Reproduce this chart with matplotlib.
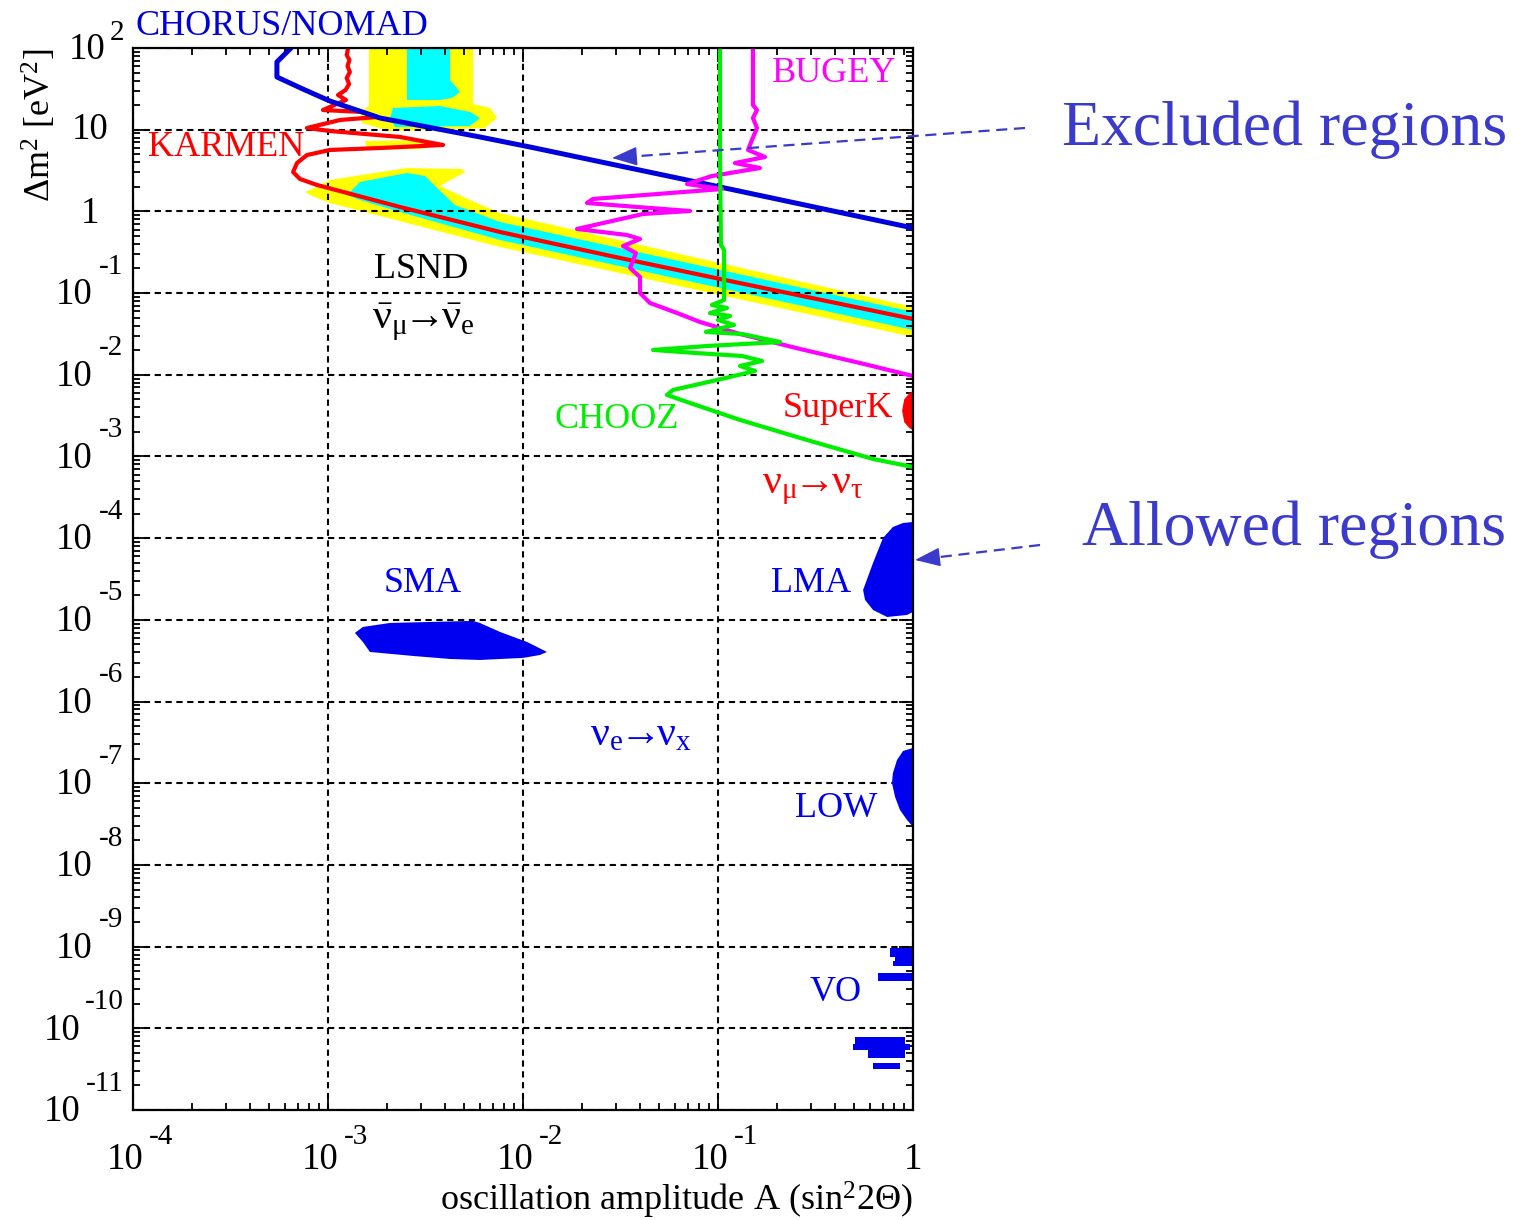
import numpy as np
import matplotlib
matplotlib.use("Agg")
import matplotlib.pyplot as plt
from matplotlib.ticker import LogLocator, NullFormatter
from matplotlib.lines import Line2D
from matplotlib.patches import FancyArrowPatch
from matplotlib.transforms import blended_transform_factory

plt.rcParams["font.family"] = ["Liberation Serif", "DejaVu Serif"]
plt.rcParams["mathtext.fontset"] = "custom"
plt.rcParams["mathtext.rm"] = "Liberation Serif"
plt.rcParams["mathtext.it"] = "Liberation Serif:italic"
plt.rcParams["mathtext.bf"] = "Liberation Serif:bold"
plt.rcParams["mathtext.fallback"] = "stix"

# All curves are given as log10(sin^2 2theta) and log10(dm^2 / eV^2)

# CHORUS / NOMAD exclusion limit
chorus_a = [-3.190, -3.262, -3.262, -3.118, -2.990, -2.733, -2.221, -1.964, -0.990, 0.0]
chorus_m = [2.000, 1.829, 1.645, 1.486, 1.351, 1.143, 0.911, 0.788, 0.299, -0.203]

# KARMEN exclusion limit
karmen_a = [-2.897, -2.904, -2.890, -2.900, -2.888, -2.904, -2.892, -2.910, -2.949, -2.908,
            -3.026, -2.826, -2.749, -2.938, -3.108, -2.990, -2.631, -2.410, -2.733, -2.990,
            -3.108, -3.159, -3.179, -3.144, -3.056, -2.631, -2.118, -1.503, -0.990, 0.0]
karmen_m = [2.000, 1.914, 1.853, 1.780, 1.706, 1.633, 1.559, 1.486, 1.425, 1.364,
            1.241, 1.217, 1.155, 1.119, 1.021, 0.984, 0.911, 0.813, 0.776, 0.752,
            0.690, 0.592, 0.482, 0.397, 0.323, 0.054, -0.252, -0.570, -0.827, -1.317]

# BUGEY exclusion limit
bugey_a = [-0.821, -0.821, -0.800, -0.821, -0.800, -0.826, -0.846, -0.759, -0.913, -0.785,
           -1.031, -1.159, -0.979, -1.641, -1.672, -1.415, -1.144, -1.385, -1.723, -1.467,
           -1.400, -1.487, -1.421, -1.451, -1.400, -1.400, -1.349, -1.210, -1.092, -0.887,
           -0.579, -0.272, 0.0]
bugey_m = [2.000, 1.302, 1.241, 1.143, 1.021, 0.874, 0.752, 0.666, 0.592, 0.531,
           0.433, 0.335, 0.274, 0.152, 0.103, 0.054, 0.005, -0.032, -0.215, -0.289,
           -0.338, -0.424, -0.509, -0.693, -0.803, -0.999, -1.121, -1.244, -1.354, -1.501,
           -1.684, -1.856, -2.015]

# CHOOZ exclusion limit
chooz_a = [-0.990, -0.990, -0.985, -0.969, -0.969, -1.031, -0.954, -1.041, -0.938, -1.000,
           -0.918, -1.062, -0.877, -0.682, -1.051, -1.333, -1.118, -0.877, -0.774, -0.887,
           -0.810, -1.005, -1.231, -1.262, -1.144, -0.887, -0.544, -0.205, 0.0]
chooz_m = [2.000, 0.752, -0.411, -0.472, -1.084, -1.146, -1.182, -1.244, -1.280, -1.329,
           -1.390, -1.476, -1.501, -1.599, -1.647, -1.696, -1.733, -1.770, -1.831, -1.892,
           -1.953, -2.064, -2.186, -2.247, -2.345, -2.553, -2.798, -3.031, -3.129]

# LSND allowed regions: outer (yellow) and inner (cyan) contours
lsnd_outer = [
    ([-2.790, -2.256, -2.256, -2.169, -2.133, -2.195, -2.682, -2.826, -2.836, -2.790],
     [2.000, 2.000, 1.315, 1.266, 1.143, 1.021, 0.984, 1.082, 1.217, 1.290]),
    ([-2.810, -2.528, -2.410, -2.528, -2.800],
     [0.862, 0.874, 0.813, 0.764, 0.752]),
    ([-3.092, -2.990, -2.733, -2.595, -2.313, -2.297, -2.426, -2.272, -2.118, 0.0, 0.0,
      -2.118, -2.990, -3.082, -3.118],
     [0.262, 0.384, 0.482, 0.531, 0.519, 0.482, 0.311, 0.140, -0.020, -1.170, -1.537,
      -0.436, 0.103, 0.189, 0.237]),
]
lsnd_inner = [
    ([-2.595, -2.374, -2.374, -2.323, -2.364, -2.426, -2.595],
     [2.000, 2.000, 1.608, 1.461, 1.388, 1.364, 1.364]),
    ([-2.667, -2.426, -2.272, -2.221, -2.272, -2.656, -2.682],
     [1.266, 1.290, 1.217, 1.143, 1.045, 1.033, 1.143]),
    ([-2.903, -2.836, -2.595, -2.503, -2.467, -2.349, -2.118, 0.0, 0.0, -2.118, -2.631, -2.836],
     [0.201, 0.360, 0.470, 0.433, 0.348, 0.078, -0.130, -1.231, -1.452, -0.350, -0.007, 0.140]),
]

# SuperK allowed region
superk_a = [0.0, -0.020, -0.045, -0.056, -0.045, -0.020, 0.0]
superk_m = [-2.20, -2.23, -2.30, -2.44, -2.58, -2.65, -2.68]

# Solar solutions
lma_a = [0.0, -0.051, -0.103, -0.154, -0.205, -0.256, -0.246, -0.205, -0.133, -0.031, 0.0]
lma_m = [-3.802, -3.814, -3.863, -3.998, -4.303, -4.634, -4.756, -4.879, -4.965, -4.940, -4.903]

sma_a = [-2.862, -2.821, -2.682, -2.256, -2.221, -2.118, -1.979, -1.877, -1.913, -2.000,
         -2.221, -2.374, -2.564, -2.785, -2.821]
sma_m = [-5.160, -5.087, -5.038, -5.013, -5.038, -5.148, -5.271, -5.393, -5.430, -5.466,
         -5.491, -5.479, -5.442, -5.393, -5.271]

low_a = [0.0, -0.051, -0.082, -0.103, -0.108, -0.092, -0.067, -0.031, 0.0]
low_m = [-6.568, -6.605, -6.715, -6.874, -6.996, -7.168, -7.327, -7.449, -7.535]

# Vacuum oscillation strips: (a_min, a_max, m_low, m_high)
vo_strips = [
    (-0.118, 0.0, -9.126, -9.016),
    (-0.090, 0.0, -9.180, -9.126),
    (-0.103, 0.0, -9.236, -9.180),
    (-0.179, 0.0, -9.420, -9.322),
    (-0.297, -0.041, -10.191, -10.105),
    (-0.308, -0.015, -10.264, -10.191),
    (-0.231, -0.041, -10.362, -10.264),
    (-0.205, -0.067, -10.497, -10.423),
]

x_decades = [-4, -3, -2, -1, 0]
y_decades = list(range(2, -12, -1))

YELLOW = "#ffff00"
CYAN = "#00ffff"
BLUE = "#0000f0"
LINE_BLUE = "#0000dd"
RED = "#ff0000"
MAGENTA = "#ff00ff"
GREEN = "#00ee00"
NOTE = "#3a3acc"

fig = plt.figure(figsize=(15.19, 12.20), dpi=100)
ax = fig.add_axes([0.08756, 0.09016, 0.51350, 0.87049])
ax.set_xscale("log")
ax.set_yscale("log")
ax.set_xlim(1e-4, 1)
ax.set_ylim(1e-11, 1e2)


def lin(v):
    return 10.0 ** np.asarray(v, dtype=float)


# LSND regions
for a, m in lsnd_outer:
    ax.fill(lin(a), lin(m), color=YELLOW, lw=0, zorder=1)
for a, m in lsnd_inner:
    ax.fill(lin(a), lin(m), color=CYAN, lw=0, zorder=1.5)

# allowed islands
ax.fill(lin(superk_a), lin(superk_m), color=RED, lw=0, zorder=2)
ax.fill(lin(lma_a), lin(lma_m), color=BLUE, lw=0, zorder=2)
ax.fill(lin(sma_a), lin(sma_m), color=BLUE, lw=0, zorder=2)
ax.fill(lin(low_a), lin(low_m), color=BLUE, lw=0, zorder=2)
for a0, a1, m0, m1 in vo_strips:
    ax.fill(lin([a0, a1, a1, a0]), lin([m0, m0, m1, m1]), color=BLUE, lw=0, zorder=2)

# exclusion curves
ax.plot(lin(karmen_a), lin(karmen_m), color=RED, lw=3.0, zorder=3)
ax.plot(lin(chorus_a), lin(chorus_m), color=LINE_BLUE, lw=3.6, zorder=3.2)
ax.plot(lin(bugey_a), lin(bugey_m), color=MAGENTA, lw=3.0, zorder=3.4)
ax.plot(lin(chooz_a), lin(chooz_m), color=GREEN, lw=3.0, zorder=3.6)

# grid and ticks
ax.grid(True, which="major", color="black", ls=(0, (3, 2.2)), lw=1.5, zorder=2.5)
ax.xaxis.set_major_locator(LogLocator(base=10, numticks=20))
ax.yaxis.set_major_locator(LogLocator(base=10, numticks=40))
ax.xaxis.set_minor_locator(LogLocator(base=10, subs=np.arange(2, 10), numticks=40))
ax.yaxis.set_minor_locator(LogLocator(base=10, subs=np.arange(2, 10), numticks=80))
ax.xaxis.set_major_formatter(NullFormatter())
ax.yaxis.set_major_formatter(NullFormatter())
ax.xaxis.set_minor_formatter(NullFormatter())
ax.yaxis.set_minor_formatter(NullFormatter())
ax.tick_params(which="both", direction="in", top=True, right=True, width=1.3, color="black")
ax.tick_params(which="major", length=10)
ax.tick_params(which="minor", length=5)
for sp in ax.spines.values():
    sp.set_linewidth(1.6)
    sp.set_zorder(5)

# tick labels written as 10 with a raised exponent
ytrans = blended_transform_factory(ax.transAxes, ax.transData)
xtrans = blended_transform_factory(ax.transData, ax.transAxes)
FS_MAIN = 26.5
FS_EXP = 21
for e in y_decades:
    y = 10.0 ** e
    if e == 2:
        ax.annotate("10", xy=(0, y), xycoords=ytrans, xytext=(-20, -1), textcoords="offset points",
                    ha="right", va="center", fontsize=FS_MAIN, annotation_clip=False)
        ax.annotate("2", xy=(0, y), xycoords=ytrans, xytext=(-6.5, 11), textcoords="offset points",
                    ha="right", va="center", fontsize=FS_EXP, annotation_clip=False)
    elif e == 1:
        ax.annotate("10", xy=(0, y), xycoords=ytrans, xytext=(-18, 0), textcoords="offset points",
                    ha="right", va="center", fontsize=FS_MAIN, annotation_clip=False)
    elif e == 0:
        ax.annotate("1", xy=(0, y), xycoords=ytrans, xytext=(-24, -1.4), textcoords="offset points",
                    ha="right", va="center", fontsize=FS_MAIN, annotation_clip=False)
    else:
        s = "-%d" % (-e)
        ax.annotate(s, xy=(0, y), xycoords=ytrans, xytext=(-7, 19), textcoords="offset points",
                    ha="right", va="center", fontsize=FS_EXP, annotation_clip=False)
        off = -29.5 if len(s) == 2 else -38
        ax.annotate("10", xy=(0, y), xycoords=ytrans, xytext=(off, -1.4), textcoords="offset points",
                    ha="right", va="center", fontsize=FS_MAIN, annotation_clip=False)

for e in x_decades:
    x = 10.0 ** e
    if e == 0:
        ax.annotate("1", xy=(x, 0), xycoords=xtrans, xytext=(0, -36), textcoords="offset points",
                    ha="center", va="center", fontsize=FS_MAIN, annotation_clip=False)
    else:
        ax.annotate("10", xy=(x, 0), xycoords=xtrans, xytext=(-6, -36), textcoords="offset points",
                    ha="center", va="center", fontsize=FS_MAIN, annotation_clip=False)
        ax.annotate("-%d" % (-e), xy=(x, 0), xycoords=xtrans, xytext=(11.5, -19.4),
                    textcoords="offset points", ha="left", va="center", fontsize=FS_EXP,
                    annotation_clip=False)

# axis titles
ax.text(1.0, -0.0847, "oscillation amplitude A (sin$^{2}$2Θ)", transform=ax.transAxes,
        ha="right", va="center", fontsize=26)
fig.text(0.0263, 0.8975, "Δm$^{2}$ [eV$^{2}$]", rotation=90, ha="center", va="center",
         fontsize=26)

# curve and region labels
lab = dict(transform=ax.transAxes, fontsize=26, va="center")
nu_lab = dict(transform=ax.transAxes, fontsize=30, va="center", ha="center")
ax.text(0.003, 1.020, "CHORUS/NOMAD", color=LINE_BLUE, ha="left", clip_on=False, **lab)
ax.text(0.019, 0.906, "KARMEN", color=RED, ha="left", **lab)
ax.text(0.819, 0.976, "BUGEY", color=MAGENTA, ha="left", **lab)
ax.text(0.369, 0.791, "LSND", color="black", ha="center", **lab)
ax.text(0.372, 0.742, r"$\bar{\mathrm{ν}}_{\mathrm{μ}}\!\!\rightarrow\!\!\bar{\mathrm{ν}}_{\mathrm{e}}$",
        color="black", **nu_lab)
ax.text(0.541, 0.650, "CHOOZ", color=GREEN, ha="left", **lab)
ax.text(0.974, 0.661, "SuperK", color=RED, ha="right", **lab)
ax.text(0.871, 0.586, r"$\mathrm{ν}_{\mathrm{μ}}\!\!\rightarrow\!\!\mathrm{ν}_{\mathrm{τ}}$",
        color=RED, **nu_lab)
ax.text(0.371, 0.496, "SMA", color=BLUE, ha="center", **lab)
ax.text(0.869, 0.496, "LMA", color=BLUE, ha="center", **lab)
ax.text(0.651, 0.353, r"$\mathrm{ν}_{\mathrm{e}}\!\!\rightarrow\!\!\mathrm{ν}_{\mathrm{x}}$",
        color=BLUE, **nu_lab)
ax.text(0.901, 0.284, "LOW", color=BLUE, ha="center", **lab)
ax.text(0.901, 0.111, "VO", color=BLUE, ha="center", **lab)

# side notes with dashed pointers
fig.text(0.6991, 0.8934, "Excluded regions", color=NOTE, fontsize=46, ha="left", va="center")
fig.text(0.7123, 0.5656, "Allowed regions", color=NOTE, fontsize=46, ha="left", va="center")


def pointer(start, tip):
    sx, sy = start
    tx, ty = tip
    # back off from the tip so the dashed shaft meets the head
    vx, vy = (sx - tx) * 1519, (sy - ty) * 1220
    n = np.hypot(vx, vy)
    bx, by = tx + vx / n * 22 / 1519, ty + vy / n * 22 / 1220
    fig.add_artist(Line2D([sx, bx], [sy, by], transform=fig.transFigure, color=NOTE,
                          lw=1.6, ls=(0, (5, 3))))
    fig.add_artist(FancyArrowPatch((bx, by), (tx, ty), transform=fig.transFigure,
                                   arrowstyle="-|>,head_length=0.8,head_width=0.3",
                                   mutation_scale=20, color=NOTE, lw=1.0,
                                   shrinkA=0, shrinkB=0))


pointer((0.6748, 0.8951), (0.4029, 0.8705))
pointer((0.6847, 0.5533), (0.6024, 0.5410))

fig.savefig("out.png", dpi=100)
